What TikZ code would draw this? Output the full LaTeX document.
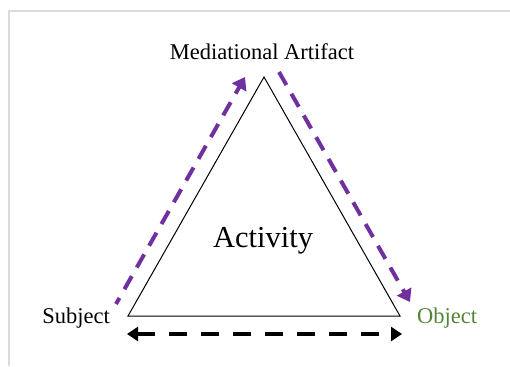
\documentclass[tikz,border=0pt]{standalone}
\usepackage{fontspec}
\setmainfont{Liberation Serif}
\usetikzlibrary{arrows.meta}
\definecolor{flowpurple}{RGB}{112,48,160}
\definecolor{objgreen}{RGB}{84,132,54}
\tikzset{
  label/.style={font=\fontsize{22.5}{26}\selectfont, anchor=base, inner sep=0pt},
  flow/.style={flowpurple, line width=4pt, dash pattern=on 15pt off 10pt, -{Triangle[length=12pt,width=16pt]}},
  swap/.style={black, line width=4.2pt, dash pattern=on 18pt off 14pt, {Triangle[length=11pt,width=14pt]}-{Triangle[length=11pt,width=14pt]}}
}
\begin{document}
\begin{tikzpicture}[x=1pt, y=-1pt]
\useasboundingbox (0,0) rectangle (510,366);

\draw[black!14, line width=2pt] (9,366) -- (9,11) -- (510,11);

\coordinate (top) at (264,77);
\coordinate (left) at (128,316);
\coordinate (right) at (400,316);
\draw[line width=1pt, line join=miter] (left) -- (top) -- (right) -- cycle;

\node[label] (artifact) at (262,60) {Mediational Artifact};
\node[label] (subject) at (76,323) {Subject};
\node[label, objgreen] (object) at (447,323) {Object};
\node[label, font=\fontsize{30.5}{34}\selectfont] (activity) at (263,247) {Activity};

\coordinate (s1) at (116,304);
\coordinate (s2) at (245,77);
\coordinate (o1) at (279,72);
\coordinate (o2) at (410,302);
\coordinate (b1) at (127,334);
\coordinate (b2) at (402,334);

\draw[flow, dash phase=8pt] (s1) -- (s2);
\draw[flow] (o1) -- (o2);
\draw[swap] (b1) -- (b2);

\end{tikzpicture}
\end{document}
